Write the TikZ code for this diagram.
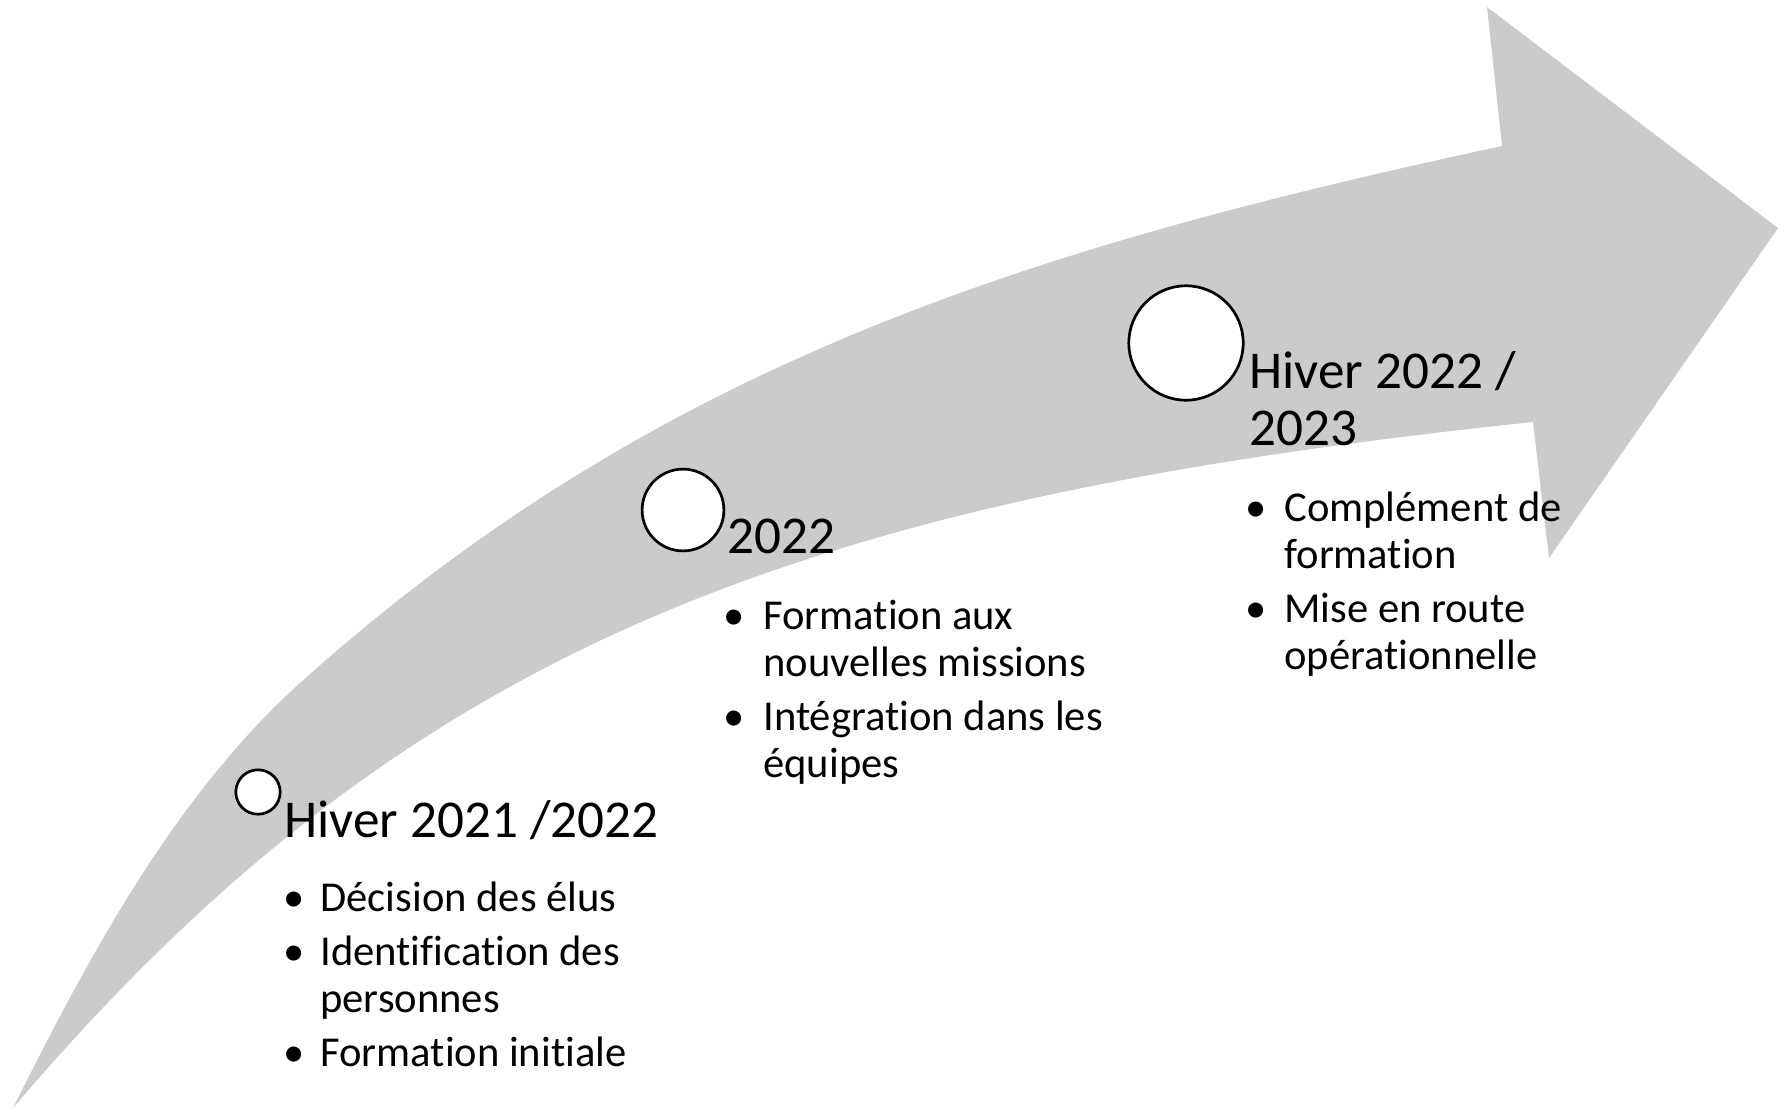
\documentclass[tikz,border=0pt]{standalone}
\usepackage{fontspec}
\setmainfont{Carlito}[Ligatures={NoCommon,NoRare,NoContextual}]
\definecolor{arrowfill}{RGB}{203,203,203}
\begin{document}
\begin{tikzpicture}[x=0.5pt,y=-0.5pt,
  title/.style={anchor=base west, inner sep=0pt, font=\fontsize{26.6}{28.5}\selectfont},
  body/.style={anchor=base west, inner sep=0pt, font=\fontsize{21.3}{23.5}\selectfont},
  bul/.style={anchor=base, inner sep=0pt, font=\fontsize{21.3}{23.5}\selectfont},
  dotc/.style={circle, draw=black, fill=white, line width=1.35pt, inner sep=0pt}]
\useasboundingbox (0,0) rectangle (1786,1109);
% curved arrow
\fill[arrowfill] (13,1108) .. controls (89,956) and (174,797) .. (300,683)
  .. controls (657,362) and (1033,247) .. (1502,146)
  -- (1487,7) -- (1778,228) -- (1549,558) -- (1533,422)
  .. controls (787,500) and (402,651) .. (13,1108) -- cycle;
% circles
\node[dotc, minimum size=22.2pt] (c1) at (258,792) {};
\node[dotc, minimum size=40.9pt] (c2) at (683,510) {};
\node[dotc, minimum size=57.2pt] (c3) at (1186,343) {};
% group 1
\node[title] (t1) at (284,837) {Hiver 2021 /2022};
\node[bul] (b1a) at (294,911) {•};
\node[body] (i1a) at (320,911) {Décision des élus};
\node[bul] (b1b) at (294,965) {•};
\node[body] (i1b) at (320,965) {Identification des};
\node[body] (i1b2) at (320,1012) {personnes};
\node[bul] (b1c) at (294,1066) {•};
\node[body] (i1c) at (320,1066) {Formation initiale};
% group 2
\node[title] (t2) at (727,553) {2022};
\node[bul] (b2a) at (734,629) {•};
\node[body] (i2a) at (763,629) {Formation aux};
\node[body] (i2a2) at (763,676) {nouvelles missions};
\node[bul] (b2b) at (734,730) {•};
\node[body] (i2b) at (763,730) {Intégration dans les};
\node[body] (i2b2) at (763,777) {équipes};
% group 3
\node[title] (t3) at (1249,388) {Hiver 2022 /};
\node[title] (t3b) at (1249,445) {2023};
\node[bul] (b3a) at (1256,521) {•};
\node[body] (i3a) at (1284,521) {Complément de};
\node[body] (i3a2) at (1284,568) {formation};
\node[bul] (b3b) at (1256,622) {•};
\node[body] (i3b) at (1284,622) {Mise en route};
\node[body] (i3b2) at (1284,669) {opérationnelle};
\end{tikzpicture}
\end{document}
